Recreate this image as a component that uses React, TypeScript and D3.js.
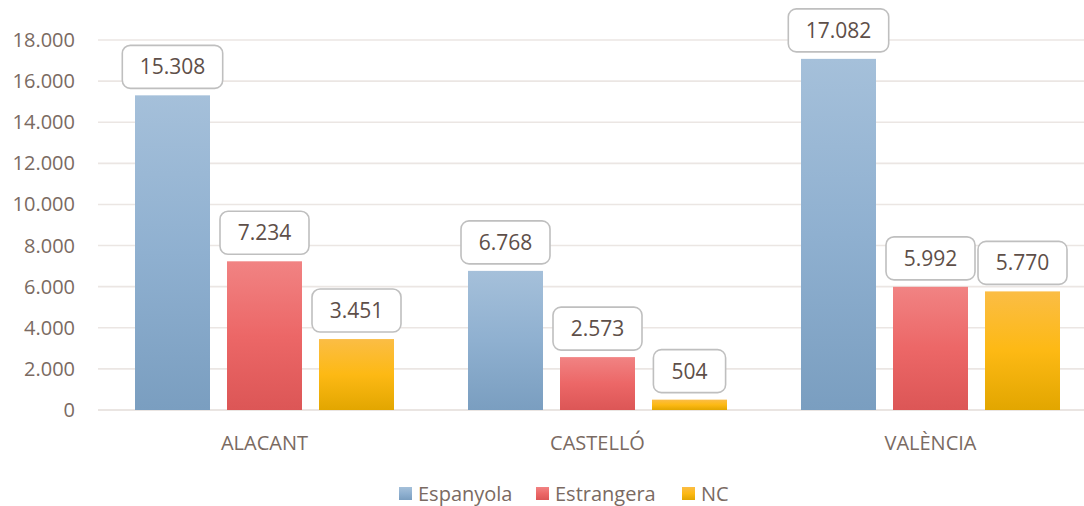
import React from "react";
import * as d3 from "d3";

const categories = ["ALACANT", "CASTELLÓ", "VALÈNCIA"];
const seriesNames = ["Espanyola", "Estrangera", "NC"];
const espanyola = [15308, 6768, 17082];
const estrangera = [7234, 2573, 5992];
const nc = [3451, 504, 5770];
const yTicks = [0, 2000, 4000, 6000, 8000, 10000, 12000, 14000, 16000, 18000];

const W = 1084;
const H = 506;
const FONT = "'Open Sans', 'Noto Sans', sans-serif";
const AXIS_COLOR = "#7a6a62";
const LABEL_COLOR = "#5e4f49";
const GRID = "#ebe6e3";

const gradients = [
  { id: "g0", stops: ["#a5c0da", "#8fb0d0", "#7a9ec0"] },
  { id: "g1", stops: ["#f18383", "#ec6767", "#dc5656"] },
  { id: "g2", stops: ["#fbbd45", "#fdb914", "#e2a600"] },
];

const fmt = (v: number) => String(v).replace(/\B(?=(\d{3})+(?!\d))/g, ".");

export default function App() {
  const values = [espanyola, estrangera, nc];
  const x0 = d3.scaleBand<string>().domain(categories).range([98, 1097]).paddingInner(0).paddingOuter(0);
  const x1 = d3.scaleBand<string>().domain(seriesNames).range([37, 37 + 259]).paddingInner(17 / 92).paddingOuter(0);
  const y = d3.scaleLinear().domain([0, 18000]).range([410, 40]);

  const bars: any[] = [];
  const labels: any[] = [];
  categories.forEach((c, ci) => {
    seriesNames.forEach((s, si) => {
      const v = values[si][ci];
      const bx = (x0(c) as number) + (x1(s) as number);
      const bw = x1.bandwidth();
      const top = y(v);
      bars.push(
        <rect key={`b${ci}${si}`} x={bx} y={top} width={bw} height={y(0) - top} fill={`url(#${gradients[si].id})`} />
      );
      const txt = fmt(v);
      const tw = txt.length * 11.4 - (txt.includes(".") ? 6 : 0);
      const boxW = tw + 38;
      const cx = bx + bw / 2;
      const boxH = 43;
      const by = top - 7 - boxH;
      labels.push(
        <g key={`l${ci}${si}`}>
          <rect x={cx - boxW / 2} y={by} width={boxW} height={boxH} rx={8} ry={8} fill="#ffffff" stroke="#bfbfbf" strokeWidth={1.6} />
          <text x={cx} y={by + boxH / 2 + 7.5} textAnchor="middle" fontSize={21} fill={LABEL_COLOR} fontFamily={FONT}>
            {txt}
          </text>
        </g>
      );
    });
  });

  const legendItems = [
    { sq: 399, tx: 418 },
    { sq: 536, tx: 555 },
    { sq: 682, tx: 701 },
  ];

  return (
    <svg width={W} height={H} style={{ position: "absolute", left: 0, top: 0, background: "#fff" }} fontFamily={FONT}>
      <defs>
        {gradients.map((g) => (
          <linearGradient key={g.id} id={g.id} x1="0" y1="0" x2="0" y2="1">
            <stop offset="0%" stopColor={g.stops[0]} />
            <stop offset="50%" stopColor={g.stops[1]} />
            <stop offset="100%" stopColor={g.stops[2]} />
          </linearGradient>
        ))}
      </defs>
      <rect x={0} y={0} width={W} height={H} fill="#fff" />
      {yTicks.map((t) => (
        <g key={t}>
          <line x1={98} x2={W} y1={y(t)} y2={y(t)} stroke={t === 0 ? "#e3dcd8" : GRID} strokeWidth={1.6} />
          <text x={75} y={y(t) + 7} textAnchor="end" fontSize={20} fill={AXIS_COLOR}>
            {fmt(t)}
          </text>
        </g>
      ))}
      {bars}
      {labels}
      {categories.map((c) => (
        <text key={c} x={(x0(c) as number) + x0.bandwidth() / 2} y={450} textAnchor="middle" fontSize={20} fill={AXIS_COLOR}>
          {c}
        </text>
      ))}
      {seriesNames.map((s, i) => (
        <g key={s}>
          <rect x={legendItems[i].sq} y={487} width={13} height={13} fill={`url(#${gradients[i].id})`} />
          <text x={legendItems[i].tx} y={501} fontSize={20} fill={AXIS_COLOR}>
            {s}
          </text>
        </g>
      ))}
    </svg>
  );
}
